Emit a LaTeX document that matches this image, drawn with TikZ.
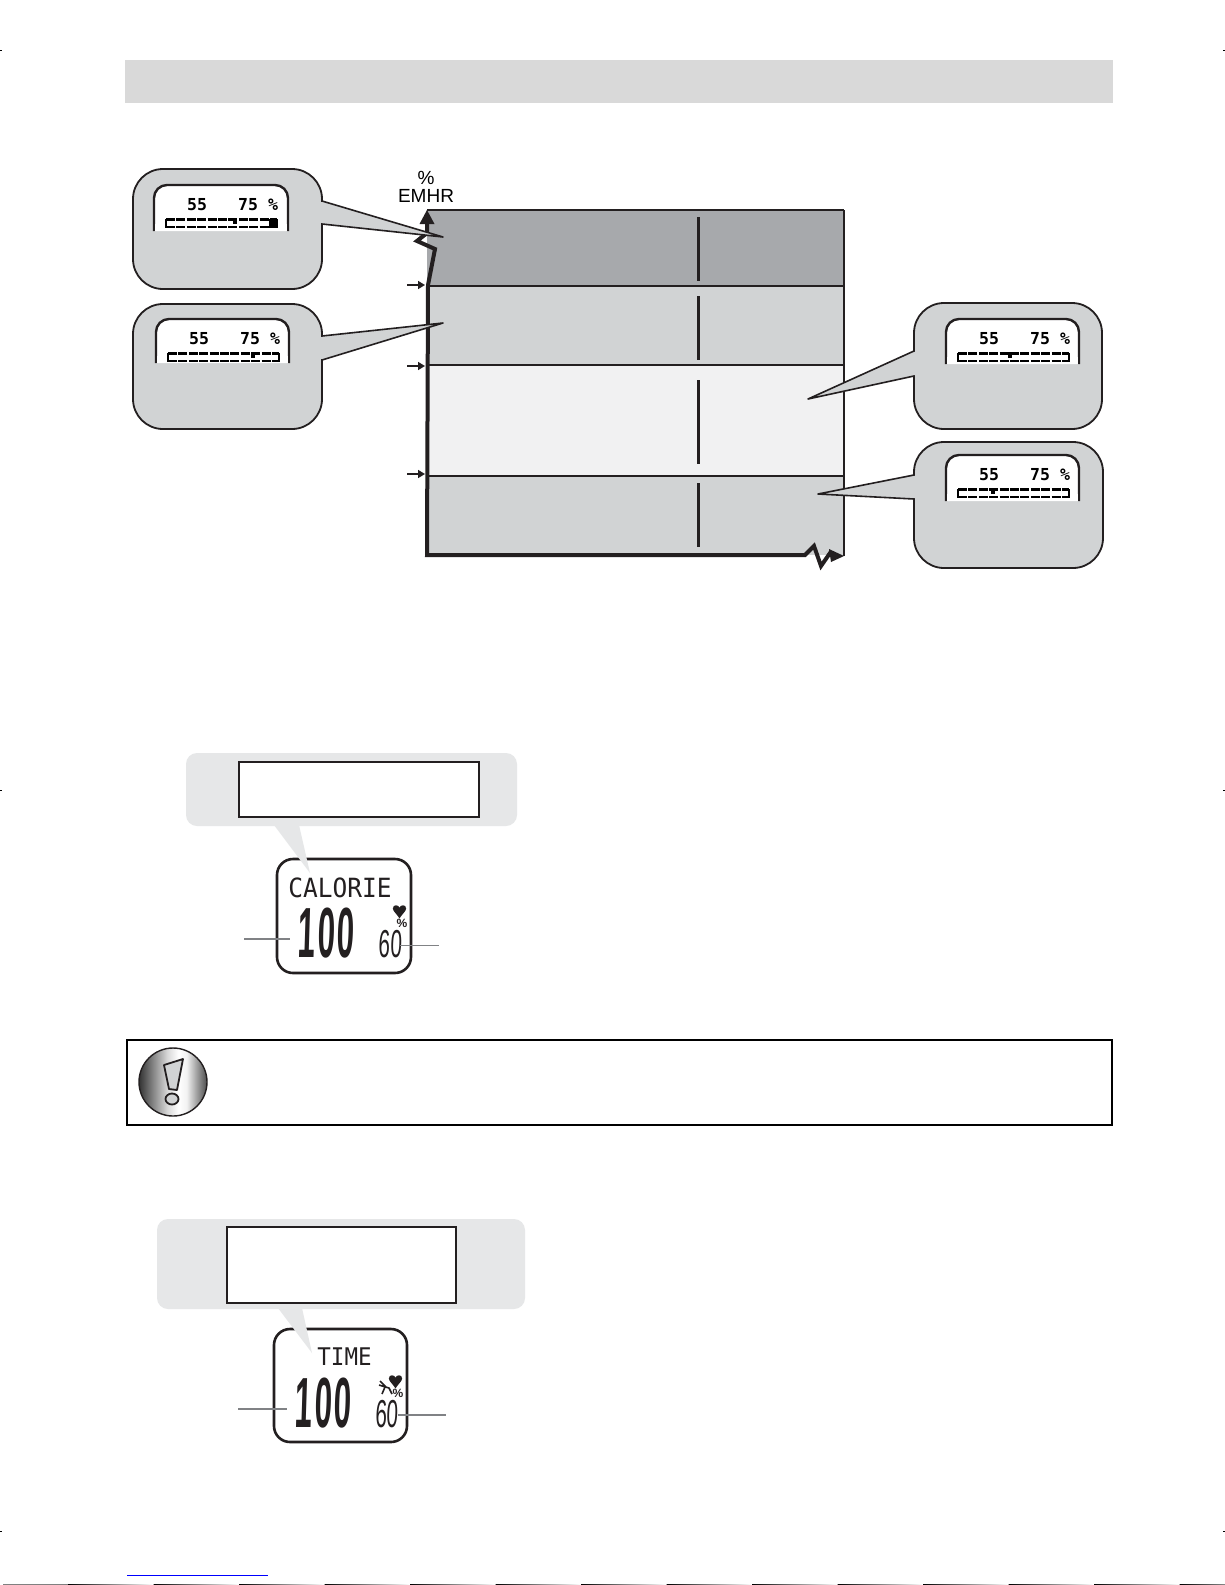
\documentclass[tikz,border=0pt]{standalone}
\usepackage{fontspec}
\setmainfont{Liberation Sans}
\newfontfamily\lcdmono{DejaVu Sans Mono}
\usetikzlibrary{arrows.meta,shapes.geometric}
\definecolor{bandA}{HTML}{A7A9AC}
\definecolor{bandB}{HTML}{D1D3D4}
\definecolor{bandC}{HTML}{F1F1F2}
\definecolor{panelgrey}{HTML}{E6E7E8}
\definecolor{headgrey}{HTML}{D9D9D9}
\definecolor{leadgrey}{HTML}{808285}
\definecolor{inkblack}{HTML}{231F20}
\pgfdeclarehorizontalshading{metalshade}{100bp}{
  rgb(0bp)=(.2,.2,.2);
  rgb(25bp)=(.2,.2,.2);
  rgb(33bp)=(.45,.45,.45);
  rgb(46bp)=(.85,.85,.85);
  rgb(54bp)=(1,1,1);
  rgb(60bp)=(.95,.95,.95);
  rgb(68bp)=(.6,.6,.6);
  rgb(75bp)=(.3,.3,.3);
  rgb(100bp)=(.3,.3,.3)}
\tikzset{
  bubblebody/.style={draw=inkblack,line width=1.8pt,fill=bandB,rounded corners=30pt},
  tailline/.style={draw=inkblack,line width=1.6pt,line join=round},
  lcdwin/.style={draw=inkblack,line width=2.4pt,fill=white,rounded corners=13pt},
  lcdnum/.style={inner sep=0pt,font=\lcdmono\bfseries\fontsize{16.5}{17}\selectfont,text=black},
  watchbody/.style={draw=inkblack,line width=2.6pt,fill=white,rounded corners=16pt},
  panelbody/.style={fill=panelgrey,draw=none,rounded corners=11pt},
  panelbox/.style={draw=inkblack,line width=1.8pt,fill=white},
  bigdigits/.style={inner sep=0pt,xscale=.44,xslant=.07,font=\bfseries\fontsize{71}{71}\selectfont,text=inkblack},
  smalldigits/.style={inner sep=0pt,xscale=.53,xslant=.07,font=\fontsize{39}{39}\selectfont,text=inkblack},
  lcdword/.style={inner sep=0pt,yscale=1.08,font=\lcdmono\fontsize{24.5}{25}\selectfont,text=inkblack},
  pctmark/.style={inner sep=0pt,font=\bfseries\fontsize{12}{12}\selectfont,text=inkblack},
  leadline/.style={draw=leadgrey,line width=1.5pt},
  axisline/.style={draw=inkblack,line width=4pt,line join=miter},
  tickarrow/.style={draw=inkblack,line width=1.6pt,-{Triangle[length=7pt,width=8pt]}},
  segbar/.style={draw=black,line width=2.5pt,dash pattern=on 9pt off 1.4pt}
}
% bubble: l t r b, tail x side, j1 j2, tip x y
\newcommand{\speechbub}[9]{%
  \path[bubblebody] (#1,#2) rectangle (#3,#4);
  \fill[bandB] (#5,#6) -- (#8,#9) -- (#5,#7) -- cycle;
  \fill[bandB] (#5-2,#6+1) rectangle (#5+2,#7-1);
  \draw[tailline] (#5,#6) -- (#8,#9) -- (#5,#7);
}
% lcd: left top right bottom marker-x name
\newcommand{\lcdwindow}[6]{%
  \path[lcdwin] (#1,#4) -- (#1,#2) -- (#3,#2) -- (#3,#4);
  \fill[white] (#1+1.3,#4-7) rectangle (#3-1.3,#4);
  \draw[line width=2.4pt,draw=inkblack] (#1,#4-8) -- (#1,#4) (#3,#4-8) -- (#3,#4);
  \node[lcdnum] (#6a) at (#1+43,#2+20) {55};
  \node[lcdnum] (#6b) at (#1+94,#2+20) {75};
  \node[lcdnum] (#6c) at (#1+119,#2+20) {\%};
  \draw[segbar] (#1+12,#2+34.5) -- (#1+123,#2+34.5);
  \draw[segbar] (#1+12,#2+42) -- (#1+123,#2+42);
  \draw[draw=black,line width=2pt] (#1+12,#2+34) -- (#1+12,#2+43) (#1+123,#2+34) -- (#1+123,#2+43);
  \fill[black] (#5-2,#2+33) rectangle (#5+2,#2+39);
}
\newcommand{\heartglyph}[3]{%
  \fill[inkblack] (#1,#2+#3*.95) .. controls (#1-#3*.25,#2+#3*.55) and (#1-#3*.55,#2+#3*.35) .. (#1-#3*.55,#2+#3*.12)
   .. controls (#1-#3*.55,#2-#3*.22) and (#1-#3*.1,#2-#3*.22) .. (#1,#2+#3*.05)
   .. controls (#1+#3*.1,#2-#3*.22) and (#1+#3*.55,#2-#3*.22) .. (#1+#3*.55,#2+#3*.12)
   .. controls (#1+#3*.55,#2+#3*.35) and (#1+#3*.25,#2+#3*.55) .. (#1,#2+#3*.95) -- cycle;
}
\begin{document}
\begin{tikzpicture}[x=1pt,y=-1pt]
\useasboundingbox (0,0) rectangle (1225,1585);
\fill[white] (0,0) rectangle (1225,1585);
% header
\fill[headgrey] (125,60) rectangle (1113,103);
% chart bands
\fill[bandA] (427,210) rectangle (844,286);
\fill[bandB] (427,286) rectangle (844,365);
\fill[bandC] (427,365) rectangle (844,476);
\fill[bandB] (427,476) rectangle (844,555);
\draw[inkblack,line width=2.4pt] (427,210) -- (844,210);
\draw[inkblack,line width=2pt] (427,286) -- (844,286);
\draw[inkblack,line width=2pt] (427,365) -- (844,365);
\draw[inkblack,line width=2pt] (427,476) -- (844,476);
\draw[inkblack,line width=2pt] (844,210) -- (844,556);
\foreach \ya/\yb in {217/281,296/360,380/464,483/547}
  \draw[inkblack,line width=3pt] (698,\ya) -- (698,\yb);
% axes
\draw[axisline] (427,222) -- (427,233) -- (417,241) -- (435,249) -- (428,285) -- (427,555) -- (805,555) -- (814,546) -- (821,566) -- (830,553) -- (834,556);
\fill[inkblack] (427,210) -- (434.5,224) -- (419.5,224) -- cycle;
\fill[inkblack] (844,556) -- (831,562) -- (829,549) -- cycle;
\coordinate (tkA) at (407,285);\coordinate (tkAe) at (425,285);
\coordinate (tkB) at (407,366);\coordinate (tkBe) at (425,366);
\coordinate (tkC) at (407,474);\coordinate (tkCe) at (425,474);
\draw[tickarrow] (tkA) -- (tkAe);
\draw[tickarrow] (tkB) -- (tkBe);
\draw[tickarrow] (tkC) -- (tkCe);
\node[inner sep=0pt,align=center,font=\fontsize{19}{18}\selectfont] (emhr) at (426,187) {\%\\EMHR};
% bubbles
\speechbub{133}{169}{322}{289}{322}{201}{224}{443}{237}
\lcdwindow{154}{185}{288}{231}{235}{bA}
\fill[black] (269,219) rectangle (276,228);
\speechbub{133}{304}{322}{429}{322}{336}{360}{443}{323}
\lcdwindow{156}{319}{289}{363}{253}{bB}
\speechbub{914}{303}{1102}{429}{914}{351}{376}{808}{399}
\lcdwindow{946}{319}{1079}{364}{1010}{bC}
\speechbub{914}{442}{1103}{568}{914}{475}{499}{818}{494}
\lcdwindow{946}{455}{1079}{501}{993}{bD}
% calorie panel
\path[watchbody] (277,859) rectangle (411,973);
\path[panelbody] (186,753) rectangle (517,826);
\fill[panelgrey] (274,825) -- (299,825) -- (310,873) -- cycle;
\path[panelbox] (239,762) rectangle (479,817);
\node[lcdword] (calword) at (340,888) {CALORIE};
\node[bigdigits] (calbig) at (326.5,933.5) {1\kern5.7pt 0\kern5.7pt 0};
\node[smalldigits] (calsmall) at (390.5,944) {60};
\heartglyph{399.5}{907}{12}
\node[pctmark] (calpct) at (402,923) {\%};
\coordinate (calL) at (244,939);\coordinate (calLe) at (290,939);
\coordinate (calR) at (400,945);\coordinate (calRe) at (439,945);
\draw[leadline] (calL) -- (calLe);
\draw[leadline,line width=1pt] (calR) -- (calRe);
% note box
\draw[black,line width=1.8pt] (127,1040) rectangle (1112,1125);
\shade[shading=metalshade] (173,1082) circle (34);
\draw[inkblack,line width=1.4pt] (173,1082) circle (34);
\draw[inkblack,line width=1.8pt,fill=bandB,line join=round] (164,1065) -- (183,1059) -- (177,1090) -- (169,1089) -- cycle;
\draw[inkblack,line width=1.8pt,fill=bandB] (172,1099) ellipse (6.5 and 5.5);
% time panel
\path[watchbody] (274,1329) rectangle (407,1442);
\path[panelbody] (157,1219) rectangle (525,1309);
\fill[panelgrey] (278,1308) -- (302,1308) -- (312,1353) -- cycle;
\path[panelbox] (227,1227) rectangle (456,1303);
\node[lcdword,font=\lcdmono\fontsize{22.5}{24}\selectfont] (timeword) at (344.5,1357) {TIME};
\node[bigdigits] (timebig) at (323.5,1403.5) {1\kern5.7pt 0\kern5.7pt 0};
\node[smalldigits] (timesmall) at (387,1414) {60};
\heartglyph{395.5}{1377}{12}
\node[pctmark] (timepct) at (398,1393) {\%};
\draw[inkblack,line width=1.6pt] (379,1385) -- (389,1388) -- (392,1394) (385,1387) -- (382,1394) (380,1381) -- (386,1387);
\coordinate (timeL) at (238,1409);\coordinate (timeLe) at (287,1409);
\coordinate (timeR) at (398,1415);\coordinate (timeRe) at (446,1415);
\draw[leadline] (timeL) -- (timeLe);
\draw[leadline] (timeR) -- (timeRe);
% print marks
\draw[black,line width=1pt] (0,50) -- (2,50) (1223,50) -- (1225,50) (0,790) -- (2,790) (1223,790) -- (1225,790) (0,1531) -- (2,1531) (1223,1531) -- (1225,1531);
\draw[blue,line width=1pt] (127,1575) -- (268,1575);
\foreach \i in {0,...,13}
  \shade[left color=black,right color=white] ({68+85.5*\i},1584) rectangle ({68+85.5*(\i+1)},1585);
\fill[black!50] (3,1584) rectangle (68,1585);
\end{tikzpicture}
\end{document}
